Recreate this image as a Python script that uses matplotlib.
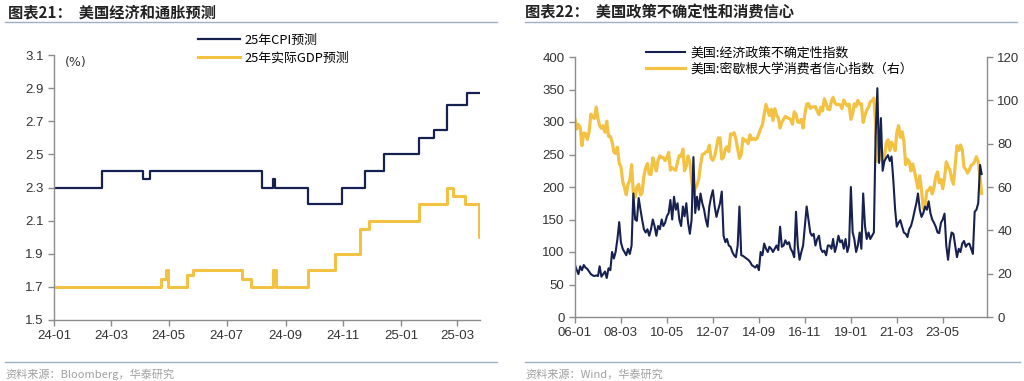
import matplotlib
matplotlib.use("Agg")
import matplotlib.pyplot as plt
import matplotlib.dates as mdates
import numpy as np
import pandas as pd

plt.rcParams['font.family'] = ['Noto Sans CJK SC', 'DejaVu Sans']

# ---------------- Left panel data (step changes) ----------------
cpi_dates = ['2024-01-01', '2024-02-21', '2024-04-04', '2024-04-11', '2024-08-07',
             '2024-08-19', '2024-08-21', '2024-09-25', '2024-10-31', '2024-11-24',
             '2024-12-14', '2025-01-20', '2025-02-04', '2025-02-18', '2025-03-11',
             '2025-03-25']
cpi_vals = [2.3, 2.4, 2.35, 2.4, 2.3, 2.35, 2.3, 2.2, 2.3, 2.4, 2.5, 2.6, 2.65,
            2.8, 2.87, 2.87]

gdp_dates = ['2024-01-01', '2024-04-23', '2024-04-28', '2024-04-30', '2024-05-20',
             '2024-05-26', '2024-07-17', '2024-07-27', '2024-08-19', '2024-08-22',
             '2024-09-25', '2024-10-23', '2024-11-19', '2024-11-28', '2025-01-20',
             '2025-02-18', '2025-02-25', '2025-03-09', '2025-03-24', '2025-03-25']
gdp_vals = [1.7, 1.75, 1.8, 1.7, 1.77, 1.8, 1.75, 1.7, 1.8, 1.7, 1.8, 1.9, 2.05,
            2.1, 2.2, 2.3, 2.25, 2.2, 2.0, 2.0]

left_yticks = [1.5, 1.7, 1.9, 2.1, 2.3, 2.5, 2.7, 2.9, 3.1]
left_xticks = ['2024-01', '2024-03', '2024-05', '2024-07', '2024-09', '2024-11',
               '2025-01', '2025-03']

# ---------------- Right panel data (monthly, 2006-01 .. 2025-03) ----------------
epu = [
    80, 72, 66, 78, 72, 80, 76, 74, 70, 66, 64, 63,            # 2006
    64, 63, 78, 62, 66, 70, 60, 75, 72, 100, 90, 100,          # 2007
    120, 146, 115, 105, 100, 95, 105, 97, 110, 190, 150, 148,  # 2008
    183, 165, 150, 135, 130, 135, 125, 135, 150, 140, 125, 140,  # 2009
    135, 150, 140, 145, 155, 160, 180, 150, 185, 165, 175, 150,  # 2010
    140, 170, 155, 175, 145, 128, 150, 246, 160, 185, 165, 190,  # 2011
    175, 165, 150, 139, 170, 185, 195, 170, 154, 165, 175, 193,  # 2012
    125, 115, 120, 110, 108, 100, 95, 92, 110, 170, 95, 94,      # 2013
    92, 90, 88, 85, 80, 78, 76, 80, 72, 100, 95, 113,            # 2014
    105, 100, 108, 105, 100, 105, 110, 103, 139, 108, 110, 118,  # 2015
    112, 115, 105, 100, 92, 162, 110, 88, 100, 110, 140, 170,    # 2016
    150, 130, 125, 128, 110, 120, 125, 105, 100, 102, 95, 110,   # 2017
    110, 105, 120, 100, 110, 125, 115, 118, 105, 120, 100, 110,  # 2018
    200, 130, 120, 100, 110, 130, 105, 190, 140, 120, 130, 120,  # 2019
    125, 130, 277, 352, 237, 306, 225, 240, 245, 249, 240, 247,  # 2020
    210, 165, 139, 145, 149, 139, 130, 128, 123, 135, 140, 150,  # 2021
    163, 175, 190, 165, 154, 160, 170, 165, 178, 160, 150, 145,  # 2022
    139, 130, 129, 145, 150, 159, 110, 88, 115, 130, 128, 110,   # 2023
    92, 105, 100, 113, 117, 108, 112, 113, 105, 97, 162, 165,    # 2024
    175, 234, 220,                                               # 2025
]
sentiment = [
    91.2, 86.7, 88.9, 87.4, 79.1, 84.9, 84.7, 82.0, 85.4, 93.6, 92.1, 91.7,
    96.9, 91.3, 88.4, 87.1, 88.3, 85.3, 90.4, 83.4, 83.4, 80.9, 76.1, 75.5,
    78.4, 70.8, 69.5, 62.6, 59.8, 56.4, 61.2, 63.0, 70.3, 57.6, 55.3, 60.1,
    61.2, 56.3, 57.3, 65.1, 68.7, 70.8, 66.0, 65.7, 73.5, 70.6, 67.4, 72.5,
    74.4, 73.6, 73.6, 72.2, 73.6, 76.0, 67.8, 68.9, 68.2, 67.7, 71.6, 74.5,
    74.2, 77.5, 67.5, 69.8, 74.3, 71.5, 63.7, 55.7, 59.5, 60.8, 63.7, 69.9,
    75.0, 75.3, 76.2, 76.4, 79.3, 73.2, 72.3, 74.3, 78.3, 82.6, 82.7, 72.9,
    73.8, 77.6, 78.6, 76.4, 84.5, 84.1, 85.1, 82.1, 77.5, 73.2, 75.1, 82.5,
    81.2, 81.6, 80.0, 84.1, 81.9, 82.5, 81.8, 82.5, 84.6, 86.9, 88.8, 93.6,
    98.1, 95.4, 93.0, 95.9, 90.7, 96.1, 93.1, 91.9, 87.2, 90.0, 91.3, 92.6,
    92.0, 91.7, 91.0, 89.0, 94.7, 93.5, 90.0, 89.8, 91.2, 87.2, 93.8, 98.2,
    98.5, 96.3, 96.9, 97.0, 97.1, 95.0, 93.4, 96.8, 95.1, 100.7, 98.5, 95.9,
    95.7, 99.7, 101.4, 98.8, 98.0, 98.2, 97.9, 96.2, 100.1, 98.6, 97.5, 98.3,
    91.2, 93.8, 98.4, 97.2, 100.0, 98.2, 98.4, 89.8, 93.2, 95.5, 96.8, 99.3,
    99.8, 101.0, 89.1, 71.8, 72.3, 78.1, 72.5, 74.1, 80.4, 81.8, 76.9, 80.7,
    79.0, 76.8, 84.9, 88.3, 82.9, 85.5, 81.2, 70.3, 72.8, 71.7, 67.4, 70.6,
    67.2, 62.8, 59.4, 65.2, 58.4, 50.0, 51.5, 58.2, 58.6, 59.9, 56.8, 59.7,
    64.9, 67.0, 62.0, 63.5, 59.2, 64.2, 71.6, 69.5, 67.9, 63.8, 61.3, 69.7,
    79.0, 76.9, 79.4, 77.2, 69.1, 68.2, 66.4, 67.9, 70.1, 70.5, 71.8, 74.0,
    71.7, 64.7, 57.0,
]
right_start = '2006-01'
right_xticks = ['2006-01', '2008-03', '2010-05', '2012-07', '2014-09', '2016-11',
                '2019-01', '2021-03', '2023-05']
right_yticks_l = [0, 50, 100, 150, 200, 250, 300, 350, 400]
right_yticks_r = [0, 20, 40, 60, 80, 100, 120]

NAVY = '#16214f'
GOLD = '#f4c242'
SPINE = '#8c8c8c'
TXT = '#333333'

fig = plt.figure(figsize=(10.24, 3.81), dpi=100)

# ---------------- Left panel ----------------
ax1 = fig.add_axes([54 / 1024, 1 - 320 / 381, 426 / 1024, 265 / 381])
cd = pd.to_datetime(cpi_dates)
gd = pd.to_datetime(gdp_dates)
l1, = ax1.plot(cd, cpi_vals, drawstyle='steps-post', color=NAVY, lw=1.6,
               label='25年CPI预测')
l2, = ax1.plot(gd, gdp_vals, drawstyle='steps-post', color=GOLD, lw=2.2,
               label='25年实际GDP预测')
ax1.set_xlim(pd.Timestamp('2024-01-01'), pd.Timestamp('2025-03-25'))
ax1.set_ylim(1.5, 3.1)
ax1.set_yticks(left_yticks)
ax1.set_yticklabels([f'{v:.1f}' for v in left_yticks])
ax1.set_xticks(pd.to_datetime(left_xticks))
ax1.xaxis.set_major_formatter(mdates.DateFormatter('%y-%m'))
ax1.text(0.025, 0.995, '(%)', transform=ax1.transAxes, fontsize=9, color=TXT,
         va='top', ha='left', family=['DejaVu Sans'])
ax1.legend(loc='upper left', bbox_to_anchor=(0.325, 1.1), frameon=False,
           fontsize=9.3, handlelength=3.3, labelspacing=0.4, borderaxespad=0,
           handletextpad=0.3)

# ---------------- Right panel ----------------
ax2 = fig.add_axes([575 / 1024, 1 - 317 / 381, 412 / 1024, 260 / 381])
months = pd.date_range(right_start, periods=len(epu), freq='MS')
l3, = ax2.plot(months, epu, color=NAVY, lw=1.5, label='美国:经济政策不确定性指数')
ax2.set_ylim(0, 400)
ax2.set_yticks(right_yticks_l)
ax2.set_xlim(pd.Timestamp('2006-01-01'), pd.Timestamp('2025-06-01'))
ax2.set_xticks(pd.to_datetime(right_xticks))
ax2.xaxis.set_major_formatter(mdates.DateFormatter('%y-%m'))
ax3 = ax2.twinx()
l4, = ax3.plot(months, sentiment, color=GOLD, lw=2.3,
               label='美国:密歇根大学消费者信心指数（右）')
ax3.set_ylim(0, 120)
ax3.set_yticks(right_yticks_r)
ax2.set_zorder(ax3.get_zorder() + 1)
ax2.patch.set_visible(False)
ax2.legend(handles=[l3, l4], loc='upper left', bbox_to_anchor=(0.16, 1.06),
           frameon=False, fontsize=9.3, handlelength=3.0, labelspacing=0.25,
           borderaxespad=0, handletextpad=0.4)

for ax in (ax1, ax2, ax3):
    for s in ax.spines.values():
        s.set_color(SPINE)
        s.set_linewidth(1.0)
    ax.tick_params(colors=SPINE, labelcolor=TXT, labelsize=9.5, length=4,
                   width=1.0, direction='out')
    ax.tick_params(axis='x', pad=3)
for ax in (ax1, ax2):
    ax.spines['top'].set_visible(False)
    ax.spines['right'].set_visible(False)
ax3.spines['top'].set_visible(False)
ax3.spines['left'].set_visible(False)
ax3.spines['bottom'].set_visible(False)

for lab in ax1.get_xticklabels() + ax1.get_yticklabels() + ax2.get_xticklabels() \
        + ax2.get_yticklabels() + ax3.get_yticklabels():
    lab.set_family(['Liberation Sans', 'DejaVu Sans'])

# ---------------- Titles, rules, sources ----------------
fig.text(8 / 1024, 1 - 12 / 381, '图表21：  美国经济和通胀预测', fontsize=11,
         fontweight='bold', color='#222222', va='center', ha='left')
fig.text(525 / 1024, 1 - 12 / 381, '图表22：  美国政策不确定性和消费信心', fontsize=11,
         fontweight='bold', color='#222222', va='center', ha='left')
RULE = '#9db0c6'
fig.add_artist(plt.Line2D([5 / 1024, 497 / 1024], [1 - 22 / 381] * 2, color=RULE, lw=1.0))
fig.add_artist(plt.Line2D([525 / 1024, 1017 / 1024], [1 - 22 / 381] * 2, color=RULE, lw=1.0))
fig.add_artist(plt.Line2D([5 / 1024, 497 / 1024], [1 - 362 / 381] * 2, color=RULE, lw=1.0))
fig.add_artist(plt.Line2D([525 / 1024, 1020 / 1024], [1 - 362 / 381] * 2, color=RULE, lw=1.0))
fig.text(5 / 1024, 1 - 374 / 381, '资料来源：Bloomberg，华泰研究', fontsize=8,
         color='#a0a0a0', va='center', ha='left')
fig.text(525 / 1024, 1 - 374 / 381, '资料来源：Wind，华泰研究', fontsize=8,
         color='#a0a0a0', va='center', ha='left')

fig.savefig('out.png', dpi=100)
